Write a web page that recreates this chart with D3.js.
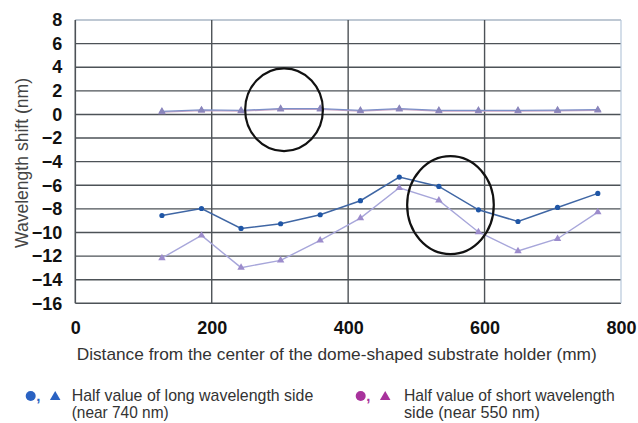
<!DOCTYPE html>
<html>
<head>
<meta charset="utf-8">
<script src="https://cdn.jsdelivr.net/npm/d3@7"></script>
<style>
  html, body { margin: 0; padding: 0; background: #fff; }
  svg { display: block; }
  text { font-family: "Liberation Sans", Arial, sans-serif; }
</style>
</head>
<body>
<svg id="chart" width="638" height="423"></svg>
<script>
// ---- data ----
const distances = [127, 185, 243, 301, 359, 418, 475, 533, 591, 649, 707, 766];
const longLower  = [-8.56, -7.97, -9.66, -9.26, -8.5, -7.31, -5.31, -6.10, -8.08, -9.07, -7.88, -6.69];
const shortLower = [-12.17, -10.25, -12.98, -12.36, -10.67, -8.78, -6.21, -7.28, -9.96, -11.57, -10.53, -8.27];
const longUpper  = [0.26, 0.38, 0.34, 0.5, 0.5, 0.34, 0.5, 0.34, 0.34, 0.34, 0.37, 0.4];
const shortUpper = [0.2, 0.32, 0.28, 0.44, 0.44, 0.28, 0.44, 0.28, 0.28, 0.28, 0.31, 0.35];
const xTicks = [0, 200, 400, 600, 800];
const yTicks = [8, 6, 4, 2, 0, -2, -4, -6, -8, -10, -12, -14, -16];
const xTitle = "Distance from the center of the dome-shaped substrate holder (mm)";
const yTitle = "Wavelength shift (nm)";
const legendLong = ["Half value of long wavelength side", "(near 740 nm)"];
const legendShort = ["Half value of short wavelength", "side (near 550 nm)"];
// annotation ellipses in data units: [cx, cy, rx, ry]
const ellipses = [[306, 0.4, 57, 3.5], [550, -7.68, 63.5, 4.15]];

const svg = d3.select("#chart");
const x = d3.scaleLinear().domain([0, 800]).range([75.3, 621]);
const y = d3.scaleLinear().domain([-16, 8]).range([303.3, 20]);

// squeeze text to a measured width (condensed face emulation)
function fit(sel, w) {
  sel.attr("textLength", w).attr("lengthAdjust", "spacingAndGlyphs");
  return sel;
}

// grid
const g = svg.append("g");
g.selectAll("line.h").data(yTicks).join("line")
  .attr("x1", x(0)).attr("x2", x(800))
  .attr("y1", d => y(d)).attr("y2", d => y(d))
  .attr("stroke", d => d === 8 ? "#a9b6c4" : "#4d5257").attr("stroke-width", 1.4);
g.selectAll("line.v").data([200, 400, 600]).join("line")
  .attr("x1", d => x(d)).attr("x2", d => x(d))
  .attr("y1", y(8)).attr("y2", y(-16))
  .attr("stroke", "#4d5257").attr("stroke-width", 1.4);
g.append("line").attr("x1", x(0)).attr("x2", x(0)).attr("y1", y(8)).attr("y2", y(-16))
  .attr("stroke", "#4d5257").attr("stroke-width", 1.6);
g.append("line").attr("x1", x(800)).attr("x2", x(800)).attr("y1", y(8)).attr("y2", y(-16))
  .attr("stroke", "#b8c8da").attr("stroke-width", 1.2);

// axes labels
const yAxis = d3.axisLeft(y).tickValues(yTicks).tickSize(0).tickPadding(13);
const ya = svg.append("g").attr("transform", `translate(${x(0)},0)`).call(yAxis);
ya.select(".domain").remove();
ya.selectAll("text").attr("font-size", 18).attr("font-weight", "bold").attr("fill", "#111")
  .attr("font-family", "'Liberation Sans', Arial, sans-serif");

const xAxis = d3.axisBottom(x).tickValues(xTicks).tickSize(0).tickPadding(18).tickFormat(d3.format("d"));
const xa = svg.append("g").attr("transform", `translate(0,${y(-16)})`).call(xAxis);
xa.select(".domain").remove();
xa.selectAll("text").attr("font-size", 18).attr("font-weight", "bold").attr("fill", "#111")
  .attr("font-family", "'Liberation Sans', Arial, sans-serif");

fit(svg.append("text").attr("x", 76.7).attr("y", 359.5)
  .attr("font-size", 17).attr("fill", "#333").text(xTitle), 520);
fit(svg.append("text")
  .attr("transform", `translate(28,248) rotate(-90)`)
  .attr("font-size", 18).attr("fill", "#444").text(yTitle), 170);

// series
const line = d3.line().x((d, i) => x(distances[i])).y(d => y(d));
function drawSeries(vals, color, width, marker, mcolor, msize) {
  svg.append("path").datum(vals).attr("d", line)
    .attr("fill", "none").attr("stroke", color).attr("stroke-width", width);
  const m = svg.append("g");
  vals.forEach((v, i) => {
    if (marker === "circle") {
      m.append("circle").attr("cx", x(distances[i])).attr("cy", y(v)).attr("r", msize).attr("fill", mcolor);
    } else {
      m.append("path").attr("d", d3.symbol().type(d3.symbolTriangle).size(msize)())
        .attr("transform", `translate(${x(distances[i])},${y(v)})`).attr("fill", mcolor);
    }
  });
}
drawSeries(shortUpper, "#c9a3c4", 1.3, "tri", "#9a8cc0", 24);
drawSeries(longUpper, "#7d90c8", 1.3, "tri", "#8a86bc", 24);
drawSeries(shortLower, "#a7a6da", 1.4, "tri", "#9c8ccc", 24);
drawSeries(longLower, "#3f66a4", 1.5, "circle", "#1f56a6", 2.6);

// annotation ellipses
svg.selectAll("ellipse").data(ellipses).join("ellipse")
  .attr("cx", d => x(d[0])).attr("cy", d => y(d[1]))
  .attr("rx", d => x(d[2]) - x(0)).attr("ry", d => y(0) - y(d[3]))
  .attr("fill", "none").attr("stroke", "#111").attr("stroke-width", 2.2);

// legend
function legendItem(cx, tx, c, lines, widths) {
  const lg = svg.append("g");
  lg.append("circle").attr("cx", cx).attr("cy", 396).attr("r", 5).attr("fill", c);
  lg.append("text").attr("x", cx + 5.5).attr("y", 401).attr("font-size", 15)
    .attr("font-weight", "bold").attr("fill", c).text(",");
  lg.append("path").attr("d", d3.symbol().type(d3.symbolTriangle).size(48)())
    .attr("transform", `translate(${cx + 24.5},397)`).attr("fill", c);
  lines.forEach((t, i) => {
    fit(lg.append("text").attr("x", tx).attr("y", 400.5 + i * 17.5)
      .attr("font-size", 17).attr("fill", "#333").text(t), widths[i]);
  });
}
legendItem(30.7, 71.7, "#2a62c2", legendLong, [241.6, 97]);
legendItem(360.7, 404, "#a8329c", legendShort, [210.7, 136]);
</script>
</body>
</html>
